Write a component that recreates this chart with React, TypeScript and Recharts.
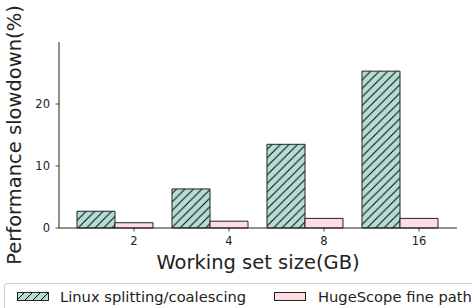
import React from 'react';
import { BarChart, Bar, XAxis, YAxis } from 'recharts';

const sizes = ['2', '4', '8', '16'];
const linuxSlowdown = [2.7, 6.3, 13.5, 25.3];
const hugescopeSlowdown = [0.85, 1.1, 1.55, 1.55];
const yTicks = [0, 10, 20];

const GREEN = '#b6ddd5';
const PINK = '#fddde1';
const EDGE = '#222';
const FONT = '"DejaVu Sans", sans-serif';

const data = sizes.map((s, i) => ({
  size: s,
  linux: linuxSlowdown[i],
  huge: hugescopeSlowdown[i],
}));

// tick sits under the pink bar (offset half a bar width)
const XTick = ({ x, y, payload }: any) => (
  <g transform={`translate(${x + 19},${y})`}>
    <line x1={0} y1={0} x2={0} y2={3.5} stroke={EDGE} strokeWidth={0.8} />
    <text x={0} y={17} textAnchor="middle" fontSize={11.5} fill="#222" fontFamily={FONT}>
      {payload.value}
    </text>
  </g>
);

const HatchSwatch = ({ id }: { id: string }) => (
  <svg width={32} height={9} style={{ display: 'block' }}>
    <defs>
      <pattern id={id} patternUnits="userSpaceOnUse" width={8} height={8}>
        <rect width={8} height={8} fill={GREEN} />
        <path d="M-2,2 L2,-2 M0,8 L8,0 M6,10 L10,6" stroke="#000" strokeWidth={1} />
      </pattern>
    </defs>
    <rect x={0.5} y={0.5} width={31} height={8} fill={`url(#${id})`} stroke={EDGE} strokeWidth={1} />
  </svg>
);

const LegendBox = () => (
  <div
    style={{
      position: 'absolute',
      left: 4,
      top: 283,
      display: 'flex',
      alignItems: 'center',
      border: '1px solid #ccc',
      borderRadius: 3,
      height: 40,
      width: 480,
      boxSizing: 'border-box',
      fontFamily: FONT,
      fontSize: 14.7,
      color: '#222',
      paddingLeft: 12,
      paddingBottom: 14,
    }}
  >
    <HatchSwatch id="legHatch" />
    <span style={{ marginLeft: 11, width: 214 }}>Linux splitting/coalescing</span>
    <svg width={32} height={9} style={{ display: 'block' }}>
      <rect x={0.5} y={0.5} width={31} height={8} fill={PINK} stroke={EDGE} strokeWidth={1} />
    </svg>
    <span style={{ marginLeft: 12 }}>HugeScope fine path</span>
  </div>
);

export default function App() {
  return (
    <div style={{ position: 'absolute', left: 0, top: 0, width: 472, height: 308, background: '#fff', overflow: 'hidden' }}>
      <BarChart
        width={472}
        height={308}
        data={data}
        margin={{ top: 42, right: 15, bottom: 50, left: 0 }}
        barCategoryGap="10%"
        barGap={0}
      >
        <defs>
          <pattern id="hatch" patternUnits="userSpaceOnUse" width={8.5} height={8.5}>
            <rect width={8.5} height={8.5} fill={GREEN} />
            <path d="M-2,2 L2,-2 M0,8.5 L8.5,0 M6.5,10.5 L10.5,6.5" stroke="#000" strokeWidth={1} />
          </pattern>
        </defs>
        <XAxis
          dataKey="size"
          height={30}
          padding={{ left: 8.5, right: 9.5 }}
          tickSize={0}
          tickMargin={0}
          tickLine={false}
          axisLine={{ stroke: EDGE, strokeWidth: 1 }}
          tick={<XTick />}
          interval={0}
          label={{
            value: 'Working set size(GB)',
            position: 'insideBottom',
            offset: -11,
            style: { fontSize: 19.5, fill: '#222', fontFamily: FONT },
          }}
        />
        <YAxis
          width={59}
          domain={[0, 30]}
          ticks={yTicks}
          tickSize={3.5}
          tickMargin={5.5}
          tick={{ fontSize: 11.5, fill: '#222', fontFamily: FONT }}
          tickLine={{ stroke: EDGE, strokeWidth: 0.8 }}
          axisLine={{ stroke: EDGE, strokeWidth: 1 }}
          label={{
            value: 'Performance slowdown(%)',
            angle: -90,
            position: 'insideLeft',
            offset: 14,
            style: { fontSize: 19.5, fill: '#222', fontFamily: FONT, textAnchor: 'middle' },
          }}
        />
        <Bar dataKey="linux" fill="url(#hatch)" stroke={EDGE} strokeWidth={1} isAnimationActive={false} />
        <Bar dataKey="huge" fill={PINK} stroke={EDGE} strokeWidth={1} isAnimationActive={false} />
      </BarChart>
      <LegendBox />
    </div>
  );
}
